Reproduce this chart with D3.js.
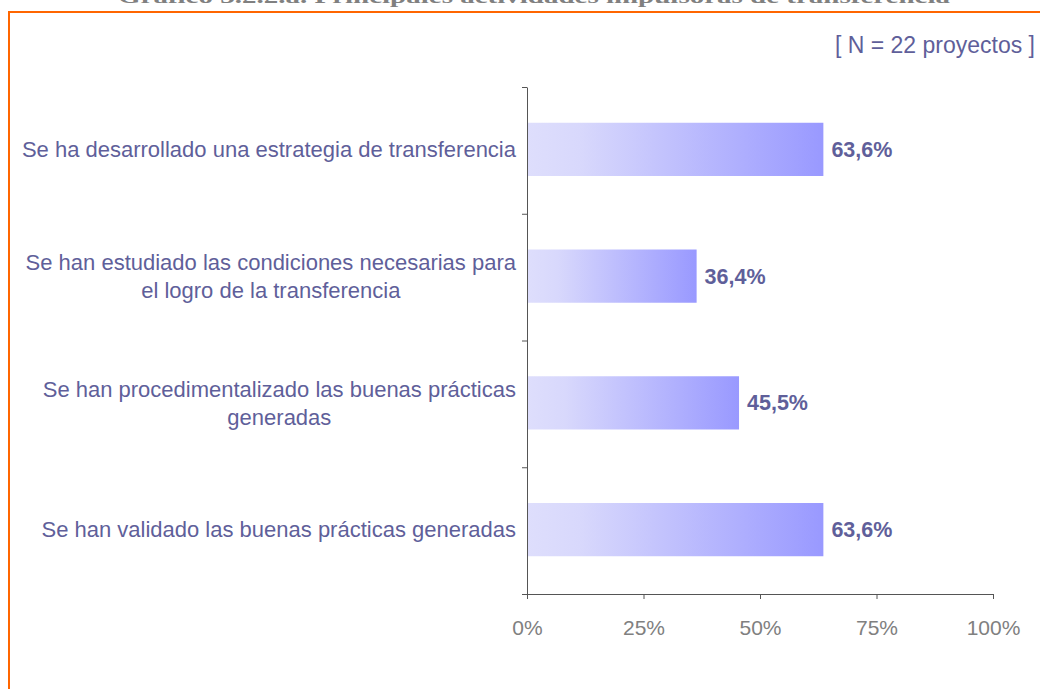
<!DOCTYPE html>
<html>
<head>
<meta charset="utf-8">
<script src="https://cdn.jsdelivr.net/npm/d3@7"></script>
<style>
  body { margin: 0; background: #fff; }
  svg { display: block; }
</style>
</head>
<body>
<svg id="chart" width="1040" height="689"></svg>
<script>
// datos del grafico
var categorias = [
  ["Se ha desarrollado una estrategia de transferencia"],
  ["Se han estudiado las condiciones necesarias para", "el logro de la transferencia"],
  ["Se han procedimentalizado las buenas prácticas", "generadas"],
  ["Se han validado las buenas prácticas generadas"]
];
var valores = [63.6, 36.4, 45.5, 63.6];
var ticksX = [0, 25, 50, 75, 100];
var titulo = "Gráfico 3.2.2.a. Principales actividades impulsoras de transferencia";
var nota = "[ N = 22 proyectos ]";

var svg = d3.select("#chart");

var textoCol = "#5f5f9a";
var fuente = "Liberation Sans, Arial, sans-serif";

// titulo (cortado arriba como en el original)
svg.append("text")
  .attr("x", 118)
  .attr("y", 3)
  .attr("textLength", 832)
  .attr("lengthAdjust", "spacingAndGlyphs")
  .attr("font-family", "Liberation Serif, serif")
  .attr("font-weight", "bold")
  .attr("font-size", "19px")
  .attr("fill", "#808080")
  .text(titulo);

// marco naranja
svg.append("path")
  .attr("d", "M9,700 L9,12 L1050,12")
  .attr("fill", "none")
  .attr("stroke", "#ff6600")
  .attr("stroke-width", 2);

svg.append("text")
  .attr("x", 1035)
  .attr("y", 53)
  .attr("text-anchor", "end")
  .attr("font-family", fuente)
  .attr("font-size", "23px")
  .attr("fill", textoCol)
  .text(nota);

var x = d3.scaleLinear().domain([0, 100]).range([527, 993]);
var y = d3.scaleBand().domain(d3.range(categorias.length)).range([87, 594]).paddingInner(0.58).paddingOuter(0.29);

var defs = svg.append("defs");
var grad = defs.append("linearGradient").attr("id", "gBar")
  .attr("x1", "0%").attr("x2", "100%").attr("y1", "0%").attr("y2", "0%");
grad.append("stop").attr("offset", "0%").attr("stop-color", "#dedefc");
grad.append("stop").attr("offset", "18%").attr("stop-color", "#d8d8fc");
grad.append("stop").attr("offset", "100%").attr("stop-color", "#9999ff");

svg.selectAll("rect.bar")
  .data(valores)
  .enter()
  .append("rect")
  .attr("class", "bar")
  .attr("x", x(0))
  .attr("y", function(d, i) { return y(i) - 1; })
  .attr("width", function(d) { return x(d) - x(0); })
  .attr("height", y.bandwidth())
  .style("fill", "url(#gBar)");

svg.selectAll("text.valor")
  .data(valores)
  .enter()
  .append("text")
  .attr("class", "valor")
  .attr("x", function(d) { return x(d) + 8; })
  .attr("y", function(d, i) { return y(i) + y.bandwidth() / 2 - 1; })
  .attr("dy", "0.35em")
  .attr("font-family", fuente)
  .attr("font-weight", "bold")
  .attr("font-size", "21.5px")
  .attr("fill", textoCol)
  .text(function(d) { return d.toFixed(1).replace(".", ",") + "%"; });

// eje y (marcas de separacion)
var yEje = d3.scaleLinear().domain([0, categorias.length]).range([87, 594]);
var ejeY = svg.append("g")
  .attr("transform", "translate(527,0)")
  .call(d3.axisLeft(yEje).tickValues(d3.range(categorias.length + 1)).tickSize(5).tickFormat("").tickSizeOuter(0));
ejeY.select(".domain").attr("stroke", "#555");
ejeY.selectAll(".tick line").attr("stroke", "#555");

// etiquetas de categoria
categorias.forEach(function(lineas, i) {
  var cy = y(i) + y.bandwidth() / 2 - 1;
  var t = svg.append("text")
    .attr("font-family", fuente)
    .attr("font-size", "22px")
    .attr("fill", textoCol)
    .attr("text-anchor", "middle");
  var spans = lineas.map(function(l, j) {
    return t.append("tspan").text(l)
      .attr("y", cy + (j - (lineas.length - 1) / 2) * 28)
      .attr("dy", "0.35em");
  });
  var w = d3.max(spans, function(s) { return s.node().getComputedTextLength(); });
  spans.forEach(function(s) { s.attr("x", 516 - w / 2); });
});

// eje x
var ejeX = svg.append("g")
  .attr("transform", "translate(0,594)")
  .call(d3.axisBottom(x).tickValues(ticksX).tickSize(5).tickSizeOuter(0)
    .tickFormat(function(d) { return d + "%"; }));
ejeX.select(".domain").attr("stroke", "#555");
ejeX.selectAll(".tick line").attr("stroke", "#555");
ejeX.selectAll(".tick text")
  .attr("dy", 0)
  .attr("y", 41)
  .attr("font-family", fuente)
  .attr("font-size", "21px")
  .attr("fill", "#808080");
svg.append("line")
  .attr("x1", 522).attr("x2", 527)
  .attr("y1", 594.5).attr("y2", 594.5)
  .attr("stroke", "#555");
</script>
</body>
</html>
